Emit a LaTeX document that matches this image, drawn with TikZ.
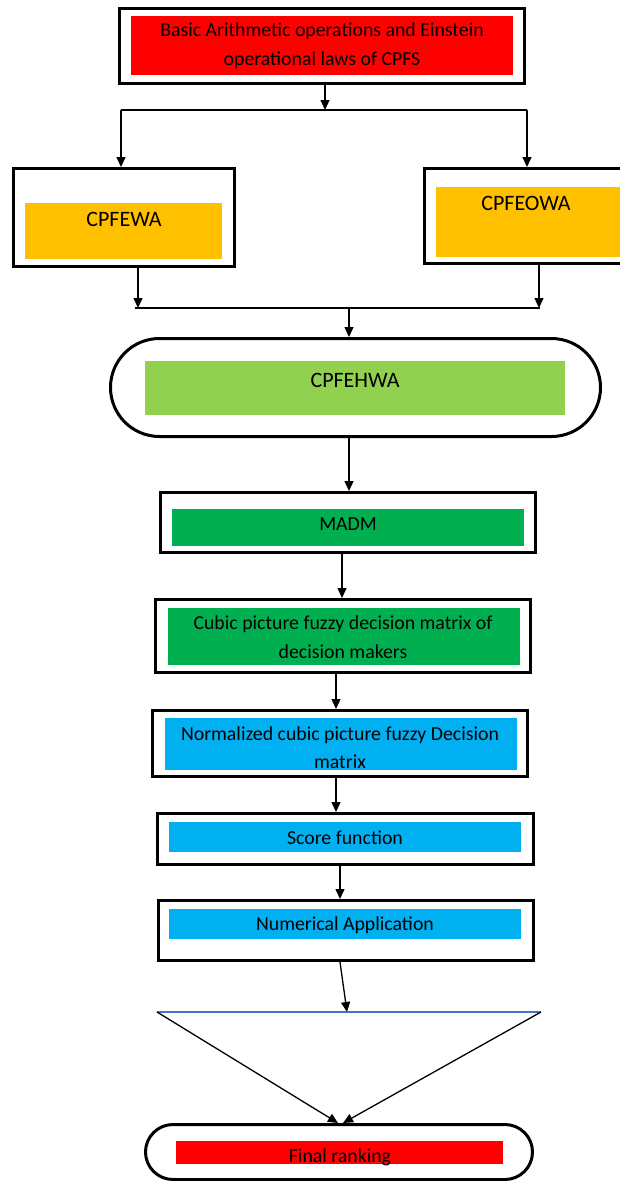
\documentclass[tikz,border=0pt]{standalone}
\usepackage{fontspec}
\setmainfont{Carlito}
\usepackage{tikz}
\usetikzlibrary{arrows.meta}
\usetikzlibrary{calc}
\usetikzlibrary{shapes}
\definecolor{boxred}{RGB}{255,0,0}
\definecolor{boxyellow}{RGB}{255,192,0}
\definecolor{boxlime}{RGB}{146,208,80}
\definecolor{boxgreen}{RGB}{0,176,80}
\definecolor{boxblue}{RGB}{0,176,240}
\definecolor{fanblue}{RGB}{68,114,196}

\begin{document}
\begin{tikzpicture}[x=1pt,y=-1pt,->,>={Triangle[length=10pt,width=9pt]},line width=1.3pt]
  \tikzstyle{frame}=[draw=black,line width=3pt,rectangle,inner sep=0pt]
  \tikzstyle{pill}=[draw=black,line width=3pt,rounded rectangle,inner sep=0pt]
  \tikzstyle{band}=[rectangle,inner sep=0pt]
  \tikzstyle{txt}=[align=center,inner sep=0pt,font=\fontsize{19.8}{29}\selectfont]
  \tikzstyle{bigtxt}=[txt,font=\fontsize{22}{26}\selectfont]
  \useasboundingbox (0,0) rectangle (619,1181);

  % frames
  \node[frame,minimum width=405pt,minimum height=75pt] (top)   at (322,46)     {};
  \node[frame,minimum width=221pt,minimum height=98pt] (wa)    at (124,217.5)  {};
  \node[frame,minimum width=197pt,minimum height=95pt] (owa)   at (523,216)    {};
  \node[pill,minimum width=490pt,minimum height=98pt]  (hwa)   at (355.5,387.5){};
  \node[frame,minimum width=375pt,minimum height=60pt] (madm)  at (348,522.5)  {};
  \node[frame,minimum width=375pt,minimum height=73pt] (cubic) at (343,636)    {};
  \node[frame,minimum width=375pt,minimum height=66pt] (norm)  at (340,743.5)  {};
  \node[frame,minimum width=376pt,minimum height=51pt] (score) at (345.5,839)  {};
  \node[frame,minimum width=375pt,minimum height=60pt] (num)   at (346,930.5)  {};
  \node[pill,minimum width=387pt,minimum height=55pt]  (rank)  at (339,1152)   {};

  % coloured bands
  \node[band,fill=boxred,minimum width=382pt,minimum height=59pt]    (topband)   at (322,45.5)   {};
  \node[band,fill=boxyellow,minimum width=197pt,minimum height=56pt] (waband)    at (123.5,231)  {};
  \node[band,fill=boxyellow,minimum width=184pt,minimum height=70pt] (owaband)   at (528,222)    {};
  \node[band,fill=boxlime,minimum width=420pt,minimum height=54pt]   (hwaband)   at (355,388)    {};
  \node[band,fill=boxgreen,minimum width=352pt,minimum height=37pt]  (madmband)  at (348,527.5)  {};
  \node[band,fill=boxgreen,minimum width=352pt,minimum height=57pt]  (cubicband) at (344,636.5)  {};
  \node[band,fill=boxblue,minimum width=352pt,minimum height=52pt]   (normband)  at (341,744)    {};
  \node[band,fill=boxblue,minimum width=352pt,minimum height=30pt]   (scoreband) at (345,837)    {};
  \node[band,fill=boxblue,minimum width=352pt,minimum height=30pt]   (numband)   at (345,924)    {};
  \node[band,fill=boxred,minimum width=327pt,minimum height=23pt]    (rankband)  at (339.5,1152.5){};

  % texts
  \node[txt] (toptext)   at (322,45.5) {Basic Arithmetic operations and Einstein\\operational laws of CPFS};
  \node[bigtxt] (watext)  at (124,219) {CPFEWA};
  \node[bigtxt] (owatext) at (526,203) {CPFEOWA};
  \node[bigtxt] (hwatext) at (355,380) {CPFEHWA};
  \node[txt] (madmtext)  at (348,524)   {MADM};
  \node[txt] (cubictext) at (343,637.5) {Cubic picture fuzzy decision matrix of\\decision makers};
  \node[txt,font=\fontsize{19.8}{28}\selectfont] (normtext) at (340,748) {Normalized cubic picture fuzzy Decision\\matrix};
  \node[txt] (scoretext) at (345,838)   {Score function};
  \node[txt] (numtext)   at (345,925)   {Numerical Application};
  \node[txt] (ranktext)  at (340,1157)  {Final ranking};

  % junction points
  \coordinate (split)  at (325,110);
  \coordinate (lsplit) at (121,110);
  \coordinate (rsplit) at (527,110);
  \coordinate (ljoin)  at (138,308);
  \coordinate (rjoin)  at (539,308);
  \coordinate (merge)  at (349,308);
  \coordinate (fan)    at (347,1012);
  \coordinate (lfan)   at (157,1012);
  \coordinate (rfan)   at (541,1012);

  % connectors
  \draw (split |- top.south) -- (split);
  \draw[-] (lsplit) -- (rsplit);
  \draw (lsplit) -- (lsplit |- wa.north);
  \draw (rsplit) -- (rsplit |- owa.north);
  \draw (ljoin |- wa.south) -- (ljoin);
  \draw (rjoin |- owa.south) -- (rjoin);
  \draw[-] ($(ljoin)+(-3,0)$) -- ($(rjoin)+(1,0)$);
  \draw (merge) -- (merge |- hwa.north);
  \draw (merge |- hwa.south) -- (merge |- madm.north);
  \draw ([xshift=-6pt]madm.south) -- ([xshift=-1pt]cubic.north);
  \draw ([xshift=-7pt]cubic.south) -- ([xshift=-4pt]norm.north);
  \draw ([xshift=-4pt]norm.south) -- ([xshift=-9.5pt]score.north);
  \draw ([xshift=-5.5pt]score.south) -- ([xshift=-6pt]num.north);
  \draw ([xshift=-6pt]num.south) -- (fan);
  \draw[-,draw=fanblue] (lfan) -- (rfan);
  \draw (lfan) -- ([xshift=-1pt]rank.north);
  \draw (rfan) -- ([xshift=4pt]rank.north);
\end{tikzpicture}
\end{document}
